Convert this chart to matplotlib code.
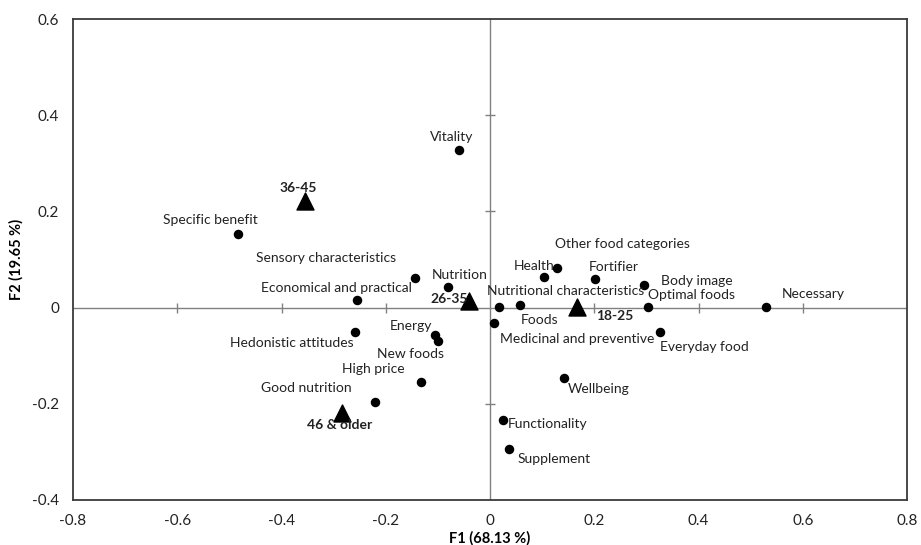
import matplotlib.pyplot as plt
import numpy as np

plt.rcParams['font.family'] = ['Lato', 'DejaVu Sans']

# attributes (dots)
attr_names = ["Vitality", "Specific benefit", "Sensory characteristics", "Nutrition",
              "Economical and practical", "Hedonistic attitudes", "Energy", "New foods",
              "High price", "Good nutrition", "Other food categories", "Health",
              "Fortifier", "Body image", "Optimal foods", "Necessary",
              "Nutritional characteristics", "Foods", "Medicinal and preventive",
              "Everyday food", "Wellbeing", "Functionality", "Supplement"]
attr_f1 = [-0.060, -0.484, -0.144, -0.081, -0.255, -0.259, -0.106, -0.100,
           -0.132, -0.221, 0.103, 0.129, 0.201, 0.296, 0.303, 0.529,
           0.017, 0.058, 0.008, 0.327, 0.142, 0.024, 0.036]
attr_f2 = [0.328, 0.153, 0.061, 0.043, 0.016, -0.051, -0.057, -0.069,
           -0.155, -0.196, 0.063, 0.082, 0.059, 0.048, 0.001, 0.001,
           0.001, 0.006, -0.031, -0.051, -0.146, -0.233, -0.293]

# age groups (triangles)
age_names = ["36-45", "26-35", "18-25", "46 & older"]
age_f1 = [-0.355, -0.040, 0.166, -0.284]
age_f2 = [0.222, 0.014, 0.001, -0.219]

xticks = [-0.8, -0.6, -0.4, -0.2, 0, 0.2, 0.4, 0.6, 0.8]
yticks = [-0.4, -0.2, 0, 0.2, 0.4, 0.6]

# label offsets in pixels (dx, dy)
attr_off = [(-7, 13), (-27, 14), (-89, 20), (12, 12), (-21, 12), (-63, -11),
            (-24, 9), (-27, -13), (-48, 13), (-69, 14), (79, 33), (-23, 2),
            (19, 12), (53, 4), (44, 12), (48, 13), (67, 16), (19, -15),
            (83, -16), (44, -15), (35, -11), (45, -4), (45, -10)]
age_off = [(-7, 13), (-20, 2), (38, -9), (-2, -12)]

fig = plt.figure(figsize=(9.21, 5.45), dpi=100)
ax = fig.add_axes([0.0793, 0.0826, 0.9055, 0.8825])
ax.set_xlim(-0.8, 0.8)
ax.set_ylim(-0.4, 0.6)

for s in ax.spines.values():
    s.set_color('#3a3a3a')
    s.set_linewidth(1.3)

ax.axhline(0, color='#808080', lw=1, zorder=1)
ax.axvline(0, color='#808080', lw=1, zorder=1)
# small ticks crossing the zero lines
xt = [t for t in xticks if t not in (-0.8, 0, 0.8)]
yt = [t for t in yticks if t not in (-0.4, 0, 0.6)]
ax.plot(xt, [0] * len(xt), ls='none', marker='|', ms=7, mew=1, color='#808080', zorder=1)
ax.plot([0] * len(yt), yt, ls='none', marker='_', ms=7, mew=1, color='#808080', zorder=1)

ax.set_xticks(xticks)
ax.set_xticklabels(['-0.8', '-0.6', '-0.4', '-0.2', '0', '0.2', '0.4', '0.6', '0.8'])
ax.set_yticks(yticks)
ax.set_yticklabels(['-0.4', '-0.2', '0', '0.2', '0.4', '0.6'])
ax.tick_params(length=0, labelsize=11, colors='#222222', pad=10)

ax.scatter(attr_f1, attr_f2, s=34, color='black', zorder=3)
ax.scatter(age_f1, age_f2, s=150, marker='^', color='black', zorder=3)

for n, x, y, o in zip(attr_names, attr_f1, attr_f2, attr_off):
    ax.annotate(n, (x, y), xytext=o, textcoords='offset pixels', ha='center', va='center',
                fontsize=10, color='#222222')
for n, x, y, o in zip(age_names, age_f1, age_f2, age_off):
    ax.annotate(n, (x, y), xytext=o, textcoords='offset pixels', ha='center', va='center',
                fontsize=10, fontweight='bold', color='#222222')

ax.set_xlabel('F1 (68.13 %)', fontsize=10.5, fontweight='bold', labelpad=2)
ax.set_ylabel('F2 (19.65 %)', fontsize=10.5, fontweight='bold', labelpad=6)

plt.savefig('out.png', dpi=100)
